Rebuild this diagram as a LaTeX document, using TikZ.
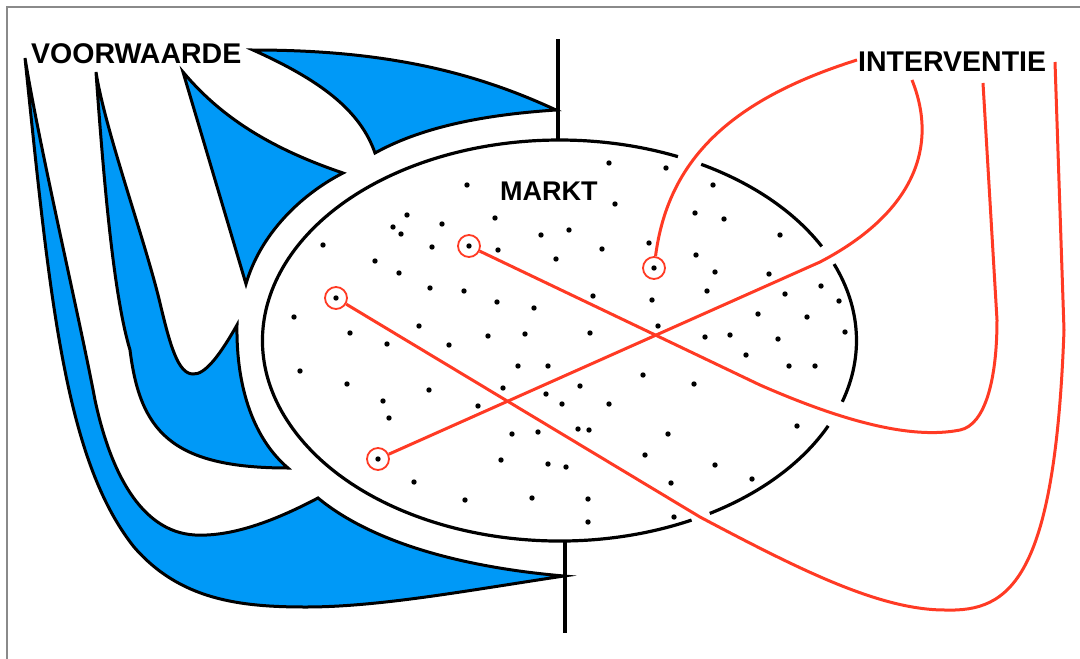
\documentclass[tikz,border=0pt]{standalone}
\usepackage{fontspec}
\usepackage{xcolor}
\usetikzlibrary{positioning}
\setmainfont{Liberation Sans}
\definecolor{ink}{HTML}{000000}
\definecolor{flow}{HTML}{0099F7}
\definecolor{act}{HTML}{FF3A24}
\definecolor{rim}{HTML}{8A8A8A}

\begin{document}
\begin{tikzpicture}[
  x=1pt, y=-1pt,
  blob/.style={fill=flow, draw=ink, line width=3pt},
  rimline/.style={draw=ink, line width=3.2pt},
  pole/.style={draw=ink, line width=4pt},
  lbl/.style={font=\bfseries\fontsize{28.5}{30}\selectfont, text=ink, inner sep=0pt, anchor=base west},
  pick/.style={circle, draw=act, line width=1.8pt, minimum size=22pt, inner sep=0pt},
  ar/.style={draw=act, line width=3pt},
]
\useasboundingbox (0,0) rectangle (1080,659);
\draw[rim, line width=1.6pt] (7,659) -- (7,7) -- (1080,7);

\draw[blob] (253,50) .. controls (380,50) and (470,70) .. (556,110)
  .. controls (480,115) and (420,128) .. (375,153)
  .. controls (360,110) and (320,80) .. (253,50) -- cycle;
\draw[blob] (183,72) .. controls (215,110) and (260,145) .. (343,173)
  .. controls (300,195) and (260,235) .. (246,284) -- cycle;
\draw[blob] (96,72) .. controls (105,200) and (115,300) .. (130,350)
  .. controls (140,430) and (170,468) .. (288,468)
  .. controls (255,440) and (236,390) .. (237,325)
  .. controls (220,355) and (205,375) .. (193,374)
  .. controls (178,374) and (170,345) .. (160,303)
  .. controls (145,240) and (105,130) .. (96,72) -- cycle;
\draw[blob] (25,58) .. controls (50,300) and (65,460) .. (134,547)
  .. controls (180,600) and (240,607) .. (306,607)
  .. controls (380,607) and (470,590) .. (564,576)
  .. controls (470,568) and (375,545) .. (318,498)
  .. controls (280,518) and (235,537) .. (195,535)
  .. controls (140,532) and (110,470) .. (95,400)
  .. controls (80,320) and (40,150) .. (25,58) -- cycle;

\coordinate (mc) at (559.5,340.5);
\foreach \a/\b in {-61.5/-28, -22.4/17.8, 25.2/59.6, 63.6/293.5}
  \draw[rimline] (mc) ++(\a:297 and 200.5) arc[start angle=\a, end angle=\b, x radius=297, y radius=200.5];
\draw[pole] (558,39) -- (558,141);
\draw[pole] (565,541) -- (565,633);

\foreach \x/\y in {467/185, 407/215, 393/227, 401/234, 442/224, 495/218, 541/235, 323/245,
  432/247, 498/250, 556/259, 375/261, 399/273, 430/288, 464/291, 497/302, 534/308, 294/317,
  350/333, 419/326, 488/336, 525/334, 387/344, 449/345,
  609/163, 666/168, 615/204, 713/185, 695/213, 724/219, 569/230, 780/235, 649/243, 602/249,
  696/255, 715/272, 769/274, 593/296, 652/300, 707/291, 785/294, 821/286, 839/301, 758/314,
  807/317, 658/326, 590/333, 705/337, 730/335, 778/339, 845/332,
  300/371, 347/384, 429/390, 518/366, 548/366, 383/401, 389/418, 478/406, 503/388, 546/394,
  512/434, 538/432, 501/460, 548/464, 414/482, 465/500, 532/498,
  746/355, 789/366, 815/366, 643/375, 694/384, 580/386, 562/404, 609/404, 578/429, 589/430,
  668/434, 797/426, 645/455, 566/467, 715/465, 671/483, 752/479, 588/499, 588/522, 674/517,
  469/246, 336/298, 654/268, 378/459}
  \fill[ink] (\x,\y) circle[radius=2.7];

\node[pick] (c1) at (469,246) {};
\node[pick] (c2) at (336,298) {};
\node[pick] (c3) at (654,268) {};
\node[pick] (c4) at (378,459) {};

\node[lbl] (voorw) at (31,63) {VOORWAARDE};
\node[lbl] (interv) at (858,71) {INTERVENTIE};
\node[lbl, font=\bfseries\fontsize{27}{29}\selectfont] (markt) at (500,200) {MARKT};

\coordinate (iA) at (857,60);
\coordinate (iB) at (912,80);
\coordinate (iC) at (983,83);
\coordinate (iD) at (1055,62);

\draw[ar] (c3) .. controls (668,160) and (730,100) .. (iA);
\draw[ar] (c4) -- (820,262) .. controls (910,215) and (940,150) .. (iB);
\draw[ar] (c1) -- (760,385) .. controls (840,420) and (910,440) .. (960,430)
  .. controls (985,425) and (997,380) .. (997,320) -- (iC);
\draw[ar] (c2) -- (700,517) .. controls (800,570) and (880,610) .. (945,610)
  .. controls (1010,612) and (1055,580) .. (1064,330) -- (iD);
\end{tikzpicture}
\end{document}
